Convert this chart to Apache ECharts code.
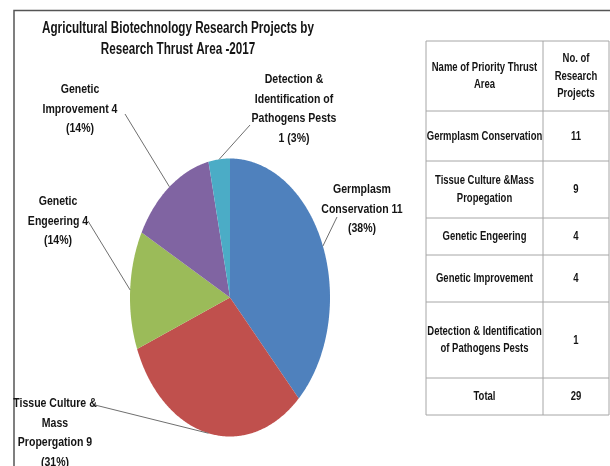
<!DOCTYPE html>
<html>
<head>
<meta charset="utf-8">
<script src="https://cdn.jsdelivr.net/npm/echarts@6/dist/echarts.min.js"></script>
<style>
  html, body { margin: 0; padding: 0; background: #fff; }
  #chart { width: 610px; height: 466px; }
</style>
</head>
<body>
<div id="chart"></div>
<script>
// data
var categories = ['Germplasm Conservation', 'Tissue Culture & Mass Propergation', 'Genetic Engeering', 'Genetic Improvement', 'Detection & Identification of Pathogens Pests'];
var projects = [11, 9, 4, 4, 1];
var labelNames = ['Germplasm\nConservation', 'Tissue Culture &\nMass\nPropergation', 'Genetic\nEngeering', 'Genetic\nImprovement', 'Detection &\nIdentification of\nPathogens Pests'];
var valueSep = [' ', ' ', ' ', ' ', '\n'];
var pctSep = ['\n', '\n', '\n', '\n', ' '];
var tableHeader = ['Name of Priority Thrust\nArea', 'No. of\nResearch\nProjects'];
var tableNames = ['Germplasm Conservation', 'Tissue Culture &Mass\nPropegation', 'Genetic Engeering', 'Genetic Improvement', 'Detection & Identification\nof Pathogens Pests'];
var titleText = 'Agricultural Biotechnology Research Projects by\nResearch Thrust Area -2017';

var sliceColors = ['#4f81bd', '#c0504d', '#9bbb59', '#8064a2', '#4bacc6'];
var FONT = '"Liberation Sans", Arial, sans-serif';

var total = projects.reduce(function (a, b) { return a + b; }, 0);
var starts = [];
var acc = 0;
projects.forEach(function (v) { starts.push(acc); acc += v; });

// narrow bold text (the original uses a condensed face)
function narrowText(txt, x, y, size, sx, lh, va) {
  return {
    type: 'text', x: x, y: y, scaleX: sx,
    style: {
      text: txt, x: 0, y: 0, align: 'center', verticalAlign: va || 'top',
      font: 'bold ' + size + 'px ' + FONT, lineHeight: lh, fill: '#141414'
    }
  };
}

// label placement (px): text centre x, text top y, leader end
var labelLayout = [
  { x: 362, y: 180, lx: 337, ly: 217 },
  { x: 55, y: 394, lx: 95, ly: 405 },
  { x: 58, y: 192, lx: 88, ly: 221 },
  { x: 80, y: 80, lx: 125, ly: 114 },
  { x: 294, y: 70, lx: 250, ly: 125 }
];

function renderSlice(params, api) {
  var i = params.dataIndex;
  var v = api.value(2);
  var a0 = starts[i] / total * Math.PI * 2;
  var a1 = a0 + v / total * Math.PI * 2;
  var pts = [api.coord([0, 0])];
  var n = Math.max(4, Math.ceil((a1 - a0) / 0.01));
  for (var k = 0; k <= n; k++) {
    var a = a0 + (a1 - a0) * k / n;
    pts.push(api.coord([Math.sin(a), Math.cos(a)]));
  }
  var am = (a0 + a1) / 2;
  var edge = api.coord([Math.sin(am), Math.cos(am)]);
  var L = labelLayout[i];
  var pct = Math.round(v / total * 100);
  var txt = labelNames[i] + valueSep[i] + v + pctSep[i] + '(' + pct + '%)';
  return {
    type: 'group',
    children: [
      { type: 'polygon', shape: { points: pts }, style: { fill: sliceColors[i] } },
      { type: 'polyline', shape: { points: [edge, [L.lx, L.ly]] }, style: { stroke: '#6f6f6f', lineWidth: 1, fill: null } },
      narrowText(txt, L.x, L.y, 13.5, 0.78, 19.5)
    ]
  };
}

// table graphic
var colX = [426, 543, 609];
var rowY = [41, 111, 161, 218, 255, 302, 378, 415];
var tableRows = [tableHeader].concat(tableNames.map(function (nm, i) { return [nm, String(projects[i])]; }));
tableRows.push(['Total', String(total)]);

var graphics = [];
// outer frame
graphics.push({
  type: 'polyline', shape: { points: [[14, 466], [14, 10.5], [610, 10.5]] },
  style: { stroke: '#555', lineWidth: 1.5, fill: null }
});
graphics.push(narrowText(titleText, 178, 18, 16, 0.73, 21));
rowY.forEach(function (y) {
  graphics.push({ type: 'line', shape: { x1: colX[0], y1: y, x2: colX[2], y2: y }, style: { stroke: '#a6a6a6', lineWidth: 1 } });
});
colX.forEach(function (x) {
  graphics.push({ type: 'line', shape: { x1: x, y1: rowY[0], x2: x, y2: rowY[rowY.length - 1] }, style: { stroke: '#a6a6a6', lineWidth: 1 } });
});
tableRows.forEach(function (row, r) {
  var cy = (rowY[r] + rowY[r + 1]) / 2;
  row.forEach(function (cell, c) {
    graphics.push(narrowText(cell, (colX[c] + colX[c + 1]) / 2, cy, 13, 0.73, 17.5, 'middle'));
  });
});

var chart = echarts.init(document.getElementById('chart'), null, { renderer: 'canvas' });
chart.setOption({
  animation: false,
  backgroundColor: '#fff',
  grid: { left: 130, top: 158.5, width: 200, height: 278 },
  xAxis: { type: 'value', min: -1, max: 1, show: false },
  yAxis: { type: 'value', min: -1, max: 1, show: false },
  graphic: graphics,
  series: [{
    type: 'custom',
    name: 'Research Projects',
    coordinateSystem: 'cartesian2d',
    encode: { x: 0, y: 1 },
    renderItem: renderSlice,
    data: projects.map(function (v, i) { return { name: categories[i], value: [0, 0, v] }; })
  }]
});
</script>
</body>
</html>
